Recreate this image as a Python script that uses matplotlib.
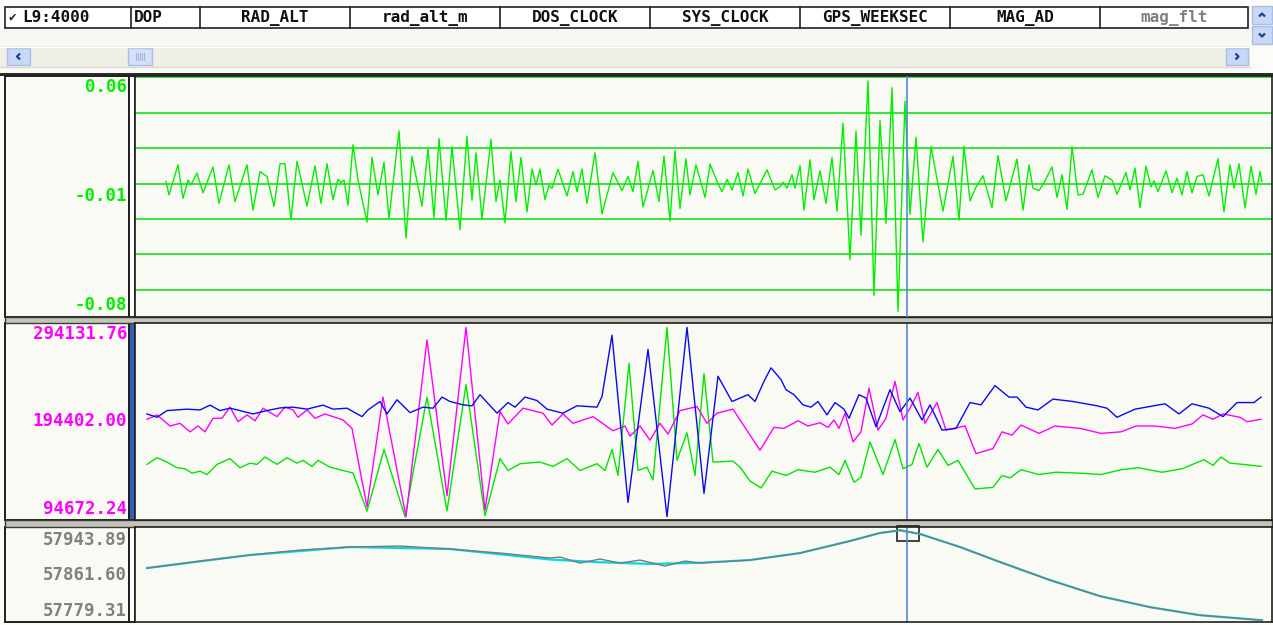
import matplotlib
matplotlib.use('Agg')
import matplotlib.pyplot as plt
import matplotlib.transforms as mtransforms
from matplotlib.patches import Rectangle
import numpy as np

W, H = 1273, 625
MONO = ['DejaVu Sans Mono', 'DejaVu Sans']

# header of the channel table
layer_name = 'L9:4000'
columns = ['DOP', 'RAD_ALT', 'rad_alt_m', 'DOS_CLOCK', 'SYS_CLOCK',
           'GPS_WEEKSEC', 'MAG_AD', 'mag_flt']

n_samples = 1137
cursor = 772

# panel 1 : mag_flt, (sample, value x1e-3)
mag_flt_pts = [
    (31, 1.2), (34, -6.4), (43, 10.6), (48, -8.4), (53, 2.0), (56, -0.8), (62, 6.0), (68, -5.2), (78, 9.4), (84, -11.2),
    (94, 10.6), (100, -10.2), (107, 2.0), (112, 10.6), (118, -15.0), (125, 6.8), (132, 4.0), (139, -12.8), (145, 11.2), (150, 11.2),
    (156, -20.4), (162, 12.6), (172, -12.8), (180, 10.0), (186, -11.2), (192, 11.2), (198, -9.0), (203, 2.4), (206, 0.6), (209, 2.0),
    (213, -12.2), (218, 22.0), (223, 2.0), (232, -21.8), (237, 14.8), (243, -6.4), (249, 12.0), (254, -19.8), (264, 29.8), (271, -30.8),
    (277, 15.4), (287, -12.8), (293, 19.6), (299, -19.2), (304, 25.4), (311, -20.8), (317, 20.8), (325, -26.0), (332, 26.8), (337, -9.4),
    (341, 17.4), (347, -19.8), (356, 25.0), (361, -10.2), (365, 2.0), (370, -22.2), (376, 18.2), (381, -10.2), (386, 14.8), (392, -16.0),
    (397, 8.2), (401, -0.8), (405, 8.2), (410, -9.0), (414, -0.8), (417, -2.8), (423, 8.2), (432, -7.0), (438, 6.8), (442, -4.6),
    (447, 8.2), (452, -11.2), (460, 17.4), (467, -17.0), (478, 6.2), (487, -4.0), (493, 4.0), (498, -4.6), (503, 12.6), (508, -13.2),
    (518, 7.4), (524, -10.2), (529, 15.4), (535, -21.2), (540, 18.6), (545, -14.0), (551, 14.0), (555, -6.4), (561, 10.6), (570, -7.8),
    (575, 11.0), (582, 1.2), (587, -4.6), (592, 2.4), (597, -3.6), (603, 6.2), (608, -7.0), (613, 8.2), (620, -5.6), (632, 7.8),
    (640, -3.6), (645, -1.8), (648, 0.8), (652, -2.6), (657, 5.0), (660, -2.6), (665, 10.2), (669, -15.0), (675, 13.4), (679, -9.2),
    (685, 7.2), (691, -11.2), (697, 14.8), (702, -15.6), (708, 34.2), (715, -43.0), (721, 29.6), (726, -29.2), (733, 58.0), (739, -63.2),
    (745, 35.6), (751, -22.6), (757, 54.2), (763, -72.2), (770, 46.6), (775, -17.4), (781, 26.2), (788, -33.0), (796, 21.0), (808, -15.6),
    (818, 15.4), (824, -20.6), (829, 21.0), (835, -9.8), (841, -2.0), (848, 4.4), (857, -13.6), (863, 15.8), (871, -9.8), (882, 13.8),
    (888, -15.0), (894, 10.6), (898, -2.6), (904, -4.0), (910, 1.6), (917, 9.4), (922, -7.8), (927, 5.0), (932, -14.6), (937, 20.8),
    (943, -6.4), (948, -6.0), (957, 7.8), (963, -7.8), (970, 4.4), (977, 2.0), (982, -6.0), (991, 6.2), (995, -3.6), (1000, 8.8),
    (1005, -13.6), (1011, 9.8), (1016, -1.8), (1019, 1.6), (1023, -4.6), (1031, 7.2), (1037, -5.2), (1042, 3.0), (1047, -6.4), (1052, 6.8),
    (1057, -5.2), (1062, 4.0), (1068, 5.0), (1074, -7.0), (1083, 14.0), (1089, -16.0), (1095, 10.6), (1099, -2.6), (1104, 11.2), (1110, -13.8),
    (1116, 9.8), (1121, -6.0), (1125, 6.8), (1127, 1.2),
]
mag_flt_labels = [0.06, -0.01, -0.08]
mag_flt_grid = [-0.06, -0.04, -0.02, 0.0, 0.02, 0.04, 0.06]
mag_flt_ylim = (-0.0754, 0.0608)

# panel 2 : three magnetometer axes, (sample, value in thousands)
mag_blue_pts = [
    (12, 202.3), (22, 198.8), (32, 205.8), (52, 207.3), (65, 206.5), (75, 211.5), (85, 205.8), (95, 208.3), (105, 205.8), (118, 202.3),
    (132, 205.8), (145, 208.6), (158, 209.4), (172, 207.3), (188, 211.5), (198, 207.3), (212, 208.3), (227, 199.5), (233, 206.5), (245, 215.3),
    (252, 202.3), (262, 217.1), (275, 203.7), (288, 209.4), (298, 208.3), (307, 219.9), (315, 215.3), (328, 211.8), (337, 210.8), (345, 222.4),
    (362, 203.1), (373, 214.2), (380, 209.4), (390, 219.9), (402, 216.3), (412, 207.3), (428, 203.1), (442, 210.8), (462, 209.4), (467, 220.6),
    (477, 284.6), (493, 109.8), (513, 269.8), (532, 95.0), (552, 292.7), (569, 119.3), (583, 241.7), (597, 215.3), (605, 218.9), (613, 222.4),
    (620, 215.3), (629, 236.4), (636, 250.5), (646, 238.2), (651, 227.6), (659, 222.4), (668, 211.8), (676, 209.4), (683, 215.3), (692, 201.3),
    (700, 214.2), (709, 207.3), (714, 197.8), (724, 222.4), (731, 218.9), (741, 188.9), (755, 227.6), (765, 204.7), (775, 218.9), (787, 196.0),
    (795, 211.8), (807, 185.4), (821, 187.2), (835, 214.2), (846, 211.8), (860, 231.9), (874, 219.9), (882, 219.9), (891, 209.4), (903, 206.5),
    (918, 217.8), (938, 215.3), (962, 210.8), (972, 208.3), (982, 198.8), (1000, 207.3), (1030, 212.9), (1044, 202.3), (1057, 212.9), (1074, 208.3),
    (1088, 199.5), (1102, 214.2), (1119, 214.2), (1126, 219.9),
]
mag_magenta_pts = [
    (12, 196.7), (22, 201.3), (35, 189.7), (45, 192.5), (55, 183.6), (63, 189.7), (70, 183.6), (78, 197.8), (87, 197.8), (95, 209.4),
    (103, 194.2), (112, 201.3), (120, 195.2), (128, 208.3), (142, 199.5), (150, 209.4), (158, 206.5), (163, 198.8), (172, 206.5), (180, 197.8),
    (190, 202.3), (198, 199.5), (208, 196.0), (217, 187.2), (232, 105.3), (248, 219.9), (271, 94.7), (292, 279.6), (312, 116.9), (331, 292.7),
    (350, 101.8), (365, 204.7), (373, 191.8), (388, 208.3), (408, 203.1), (417, 190.7), (428, 202.3), (438, 192.5), (458, 199.5), (478, 184.7),
    (490, 189.7), (495, 179.1), (505, 189.7), (515, 174.9), (525, 192.5), (533, 181.2), (545, 205.8), (562, 210.0), (572, 192.5), (582, 203.1),
    (598, 207.3), (615, 180.2), (625, 164.3), (639, 188.3), (649, 187.2), (663, 195.2), (673, 189.7), (685, 193.1), (693, 188.3), (699, 196.0),
    (704, 187.2), (710, 203.1), (718, 173.1), (726, 183.6), (734, 229.4), (743, 185.4), (751, 197.8), (760, 236.4), (768, 196.0), (775, 208.3),
    (783, 224.8), (790, 192.5), (802, 214.2), (811, 185.4), (830, 189.7), (841, 160.9), (858, 166.1), (867, 183.6), (877, 180.2), (886, 190.7),
    (904, 182.0), (920, 189.7), (945, 187.2), (966, 182.0), (986, 183.6), (1001, 189.7), (1020, 189.7), (1040, 187.2), (1057, 191.8), (1068, 201.3),
    (1078, 196.7), (1088, 202.3), (1105, 198.8), (1112, 194.2), (1126, 196.7),
]
mag_green_pts = [
    (12, 149.6), (22, 156.6), (32, 152.0), (42, 146.1), (50, 145.0), (57, 140.4), (65, 142.5), (72, 139.0), (82, 149.6), (95, 155.6),
    (105, 146.1), (115, 150.9), (122, 149.6), (130, 157.3), (142, 149.6), (152, 156.6), (162, 150.9), (168, 153.8), (177, 147.5), (183, 153.8),
    (195, 146.7), (208, 143.2), (218, 140.6), (232, 100.7), (249, 165.1), (270, 95.0), (292, 219.9), (312, 101.0), (331, 232.9), (350, 95.8),
    (365, 155.6), (373, 143.2), (385, 150.3), (405, 152.0), (418, 147.5), (432, 155.6), (445, 143.2), (462, 150.3), (470, 143.2), (477, 165.1),
    (483, 138.0), (494, 255.1), (503, 143.2), (512, 146.7), (518, 133.4), (532, 292.7), (542, 153.8), (552, 182.6), (560, 138.0), (569, 244.5),
    (578, 152.0), (598, 153.0), (605, 146.7), (615, 132.2), (626, 125.0), (637, 142.5), (651, 138.0), (663, 144.0), (680, 141.4), (695, 146.7),
    (704, 139.0), (710, 153.8), (719, 130.9), (726, 136.2), (735, 173.1), (748, 139.0), (760, 175.6), (768, 145.0), (777, 149.6), (784, 171.4),
    (792, 146.7), (803, 165.1), (813, 148.5), (823, 153.8), (840, 123.9), (858, 125.6), (867, 138.0), (875, 135.5), (886, 144.0), (904, 139.0),
    (921, 141.4), (945, 140.4), (966, 139.0), (986, 144.0), (1003, 146.1), (1027, 141.4), (1047, 145.0), (1069, 154.5), (1078, 148.5), (1086, 157.3),
    (1095, 150.9), (1108, 149.6), (1126, 147.5),
]
mag_labels = [294131.76, 194402.00, 94672.24]

# panel 3 : altitude and its reference, (sample, value)
alt_pts = [
    (12, 57874.4), (65, 57887.2), (115, 57898.2), (165, 57907.3), (215, 57912.8), (265, 57914.6), (315, 57909.2), (365, 57901.8),
    (415, 57892.7), (425, 57894.5), (445, 57883.5), (465, 57890.9), (485, 57883.5), (505, 57889.0), (530, 57878.1), (550, 57887.2),
    (565, 57883.5), (615, 57889.0), (665, 57901.8), (715, 57923.8), (745, 57938.4), (765, 57943.9), (785, 57936.6), (825, 57912.8),
    (865, 57885.4), (915, 57852.5), (965, 57823.2), (1015, 57803.1), (1065, 57788.4), (1127, 57779.3),
]
alt_ref_pts = [
    (12, 57874.4), (115, 57898.2), (215, 57912.8), (315, 57909.2), (415, 57890.0), (465, 57885.0), (515, 57882.0), (565, 57884.0),
    (615, 57889.0), (665, 57901.8), (715, 57923.8), (745, 57938.4), (765, 57943.0), (785, 57936.6), (825, 57912.8), (865, 57885.4),
    (915, 57852.5), (965, 57823.2), (1015, 57803.1), (1065, 57788.4), (1127, 57779.3),
]
alt_labels = [57943.89, 57861.60, 57779.31]

fig = plt.figure(figsize=(W / 100, H / 100), dpi=100, facecolor='#fbfbf7')


def px_axes(x0, y0, x1, y1, **kw):
    return fig.add_axes([x0 / W, 1 - y1 / H, (x1 - x0) / W, (y1 - y0) / H], **kw)


# window chrome, drawn in pixel units
bg = px_axes(0, 0, W, H)
bg.set_xlim(0, W)
bg.set_ylim(H, 0)
bg.axis('off')

# header cells
bg.add_patch(Rectangle((5, 7), 1243, 21, fc='white', ec='#202020', lw=1.2))
for x in [131, 200, 350, 500, 650, 800, 950, 1100]:
    bg.plot([x, x], [7, 28], color='#202020', lw=1.2)
bg.text(9, 18, '\u2714', color='#202020', fontsize=9, ha='left', va='center', family=MONO)
bg.text(22, 18, layer_name, color='#101010', fontsize=11.5, fontweight='bold', ha='left', va='center', family=MONO)
bg.text(134, 18, columns[0], color='#101010', fontsize=11.5, fontweight='bold', ha='left', va='center', family=MONO)
for name, xc in zip(columns[1:], [275, 425, 575, 725, 875, 1025, 1174]):
    col = '#808080' if name == 'mag_flt' else '#101010'
    bg.text(xc, 18, name, color=col, fontsize=11.5, fontweight='bold', ha='center', va='center', family=MONO)

# area under the header and horizontal scrollbar
bg.add_patch(Rectangle((0, 29), 1250, 17, fc='#f7f7f1', ec='none'))
bg.add_patch(Rectangle((0, 46), 1250, 22, fc='#efefe8', ec='none'))
bg.plot([0, 1250], [46.5, 46.5], color='#fdfdfb', lw=1)
bg.plot([0, 1250], [67, 67], color='#dcdcd2', lw=1)
bg.add_patch(Rectangle((0, 73), W, 3, fc='#2c2c2c', ec='none'))


def button(x0, y0, x1, y1, chevron):
    bg.add_patch(Rectangle((x0, y0), x1 - x0, y1 - y0, fc='#c9d8f6', ec='#a9bde6', lw=1))
    cx, cy = (x0 + x1) / 2, (y0 + y1) / 2
    d = 3
    if chevron == '<':
        pts = [(cx + d / 2, cy - d), (cx - d / 2, cy), (cx + d / 2, cy + d)]
    elif chevron == '>':
        pts = [(cx - d / 2, cy - d), (cx + d / 2, cy), (cx - d / 2, cy + d)]
    elif chevron == '^':
        pts = [(cx - d, cy + d / 2), (cx, cy - d / 2), (cx + d, cy + d / 2)]
    else:
        pts = [(cx - d, cy - d / 2), (cx, cy + d / 2), (cx + d, cy - d / 2)]
    xs, ys = zip(*pts)
    bg.plot(xs, ys, color='#1f3f8f', lw=1.6, solid_capstyle='butt')


button(7, 48, 30, 65, '<')
button(1226, 48, 1248, 65, '>')
button(1252, 6, 1272, 24, '^')
button(1252, 26, 1272, 44, 'v')
bg.add_patch(Rectangle((128, 48), 24, 17, fc='#d4e0f8', ec='#a9bde6', lw=1))
for gx in [136, 138, 140, 142, 144]:
    bg.plot([gx, gx], [53, 60], color='#9fb2dc', lw=0.7)

# panel frames
panels = [(76, 317), (323, 520), (527, 622)]
for (y0, y1), sep_col in zip(panels, ['white', '#2f62b5', 'white']):
    bg.add_patch(Rectangle((5, y0), 124, y1 - y0, fc='#fafaf5', ec='#202020', lw=1.4))
    bg.add_patch(Rectangle((129, y0), 6, y1 - y0, fc=sep_col, ec='#202020', lw=1.4))
for y0, y1 in [(317, 323), (520, 527)]:
    bg.add_patch(Rectangle((5, y0), 1267, y1 - y0, fc='#c4c4b8', ec='#3a3a3a', lw=1.0))


def plot_axes(y0, y1, ylim):
    ax = px_axes(135, y0, 1272, y1)
    ax.set_facecolor('#fafaf5')
    ax.set_xlim(0, n_samples)
    ax.set_ylim(*ylim)
    ax.set_xticks([])
    ax.set_yticks([])
    for s in ax.spines.values():
        s.set_color('#202020')
        s.set_linewidth(1.2)
    return ax


def value_labels(values, ys, color):
    for v, y in zip(values, ys):
        bg.text(127, y, f'{v:.2f}', color=color, fontsize=12.5, fontweight='bold',
                ha='right', va='center', family=MONO)


# panel 1
ax1 = plot_axes(76, 317, mag_flt_ylim)
for g in mag_flt_grid:
    ax1.axhline(g, color='#19e019', lw=1.2, zorder=1)
t, v = np.array(mag_flt_pts).T
ax1.plot(t, v / 1000, color='#00f000', lw=1.0, zorder=2)
ax1.axvline(cursor, color='#5585d5', lw=1.2, zorder=3)
value_labels(mag_flt_labels, [87, 196, 305], '#00f000')

# panel 2
span = mag_labels[0] - mag_labels[2]
ax2 = plot_axes(323, 520, (mag_labels[2] - 0.016 * span, mag_labels[0] + 0.016 * span))
for pts, col in [(mag_green_pts, '#00e600'), (mag_magenta_pts, '#ff00ff'), (mag_blue_pts, '#0a0af0')]:
    t, v = np.array(pts).T
    ax2.plot(t, v * 1000, color=col, lw=1.0)
ax2.axvline(cursor, color='#5585d5', lw=1.2)
value_labels(mag_labels, [334, 421, 509], '#ff00ff')

# panel 3
span = alt_labels[0] - alt_labels[2]
ax3 = plot_axes(527, 622, (alt_labels[2] - 0.02 * span, alt_labels[0] + 0.033 * span))
t, v = np.array(alt_ref_pts).T
ax3.plot(t, v, color='#00d8e8', lw=1.6)
t, v = np.array(alt_pts).T
ax3.plot(t, v, color='#7a7a7a', lw=1.0)
ax3.axvline(cursor, color='#5585d5', lw=1.2)
trans = mtransforms.blended_transform_factory(ax3.transData, ax3.transAxes)
ax3.add_patch(Rectangle((cursor - 10, 0.85), 22, 0.16, transform=trans,
                        fill=False, ec='#202020', lw=1.2, clip_on=False))
value_labels(alt_labels, [540, 575, 611], '#808080')

fig.savefig('out.png', dpi=100, facecolor=fig.get_facecolor())
